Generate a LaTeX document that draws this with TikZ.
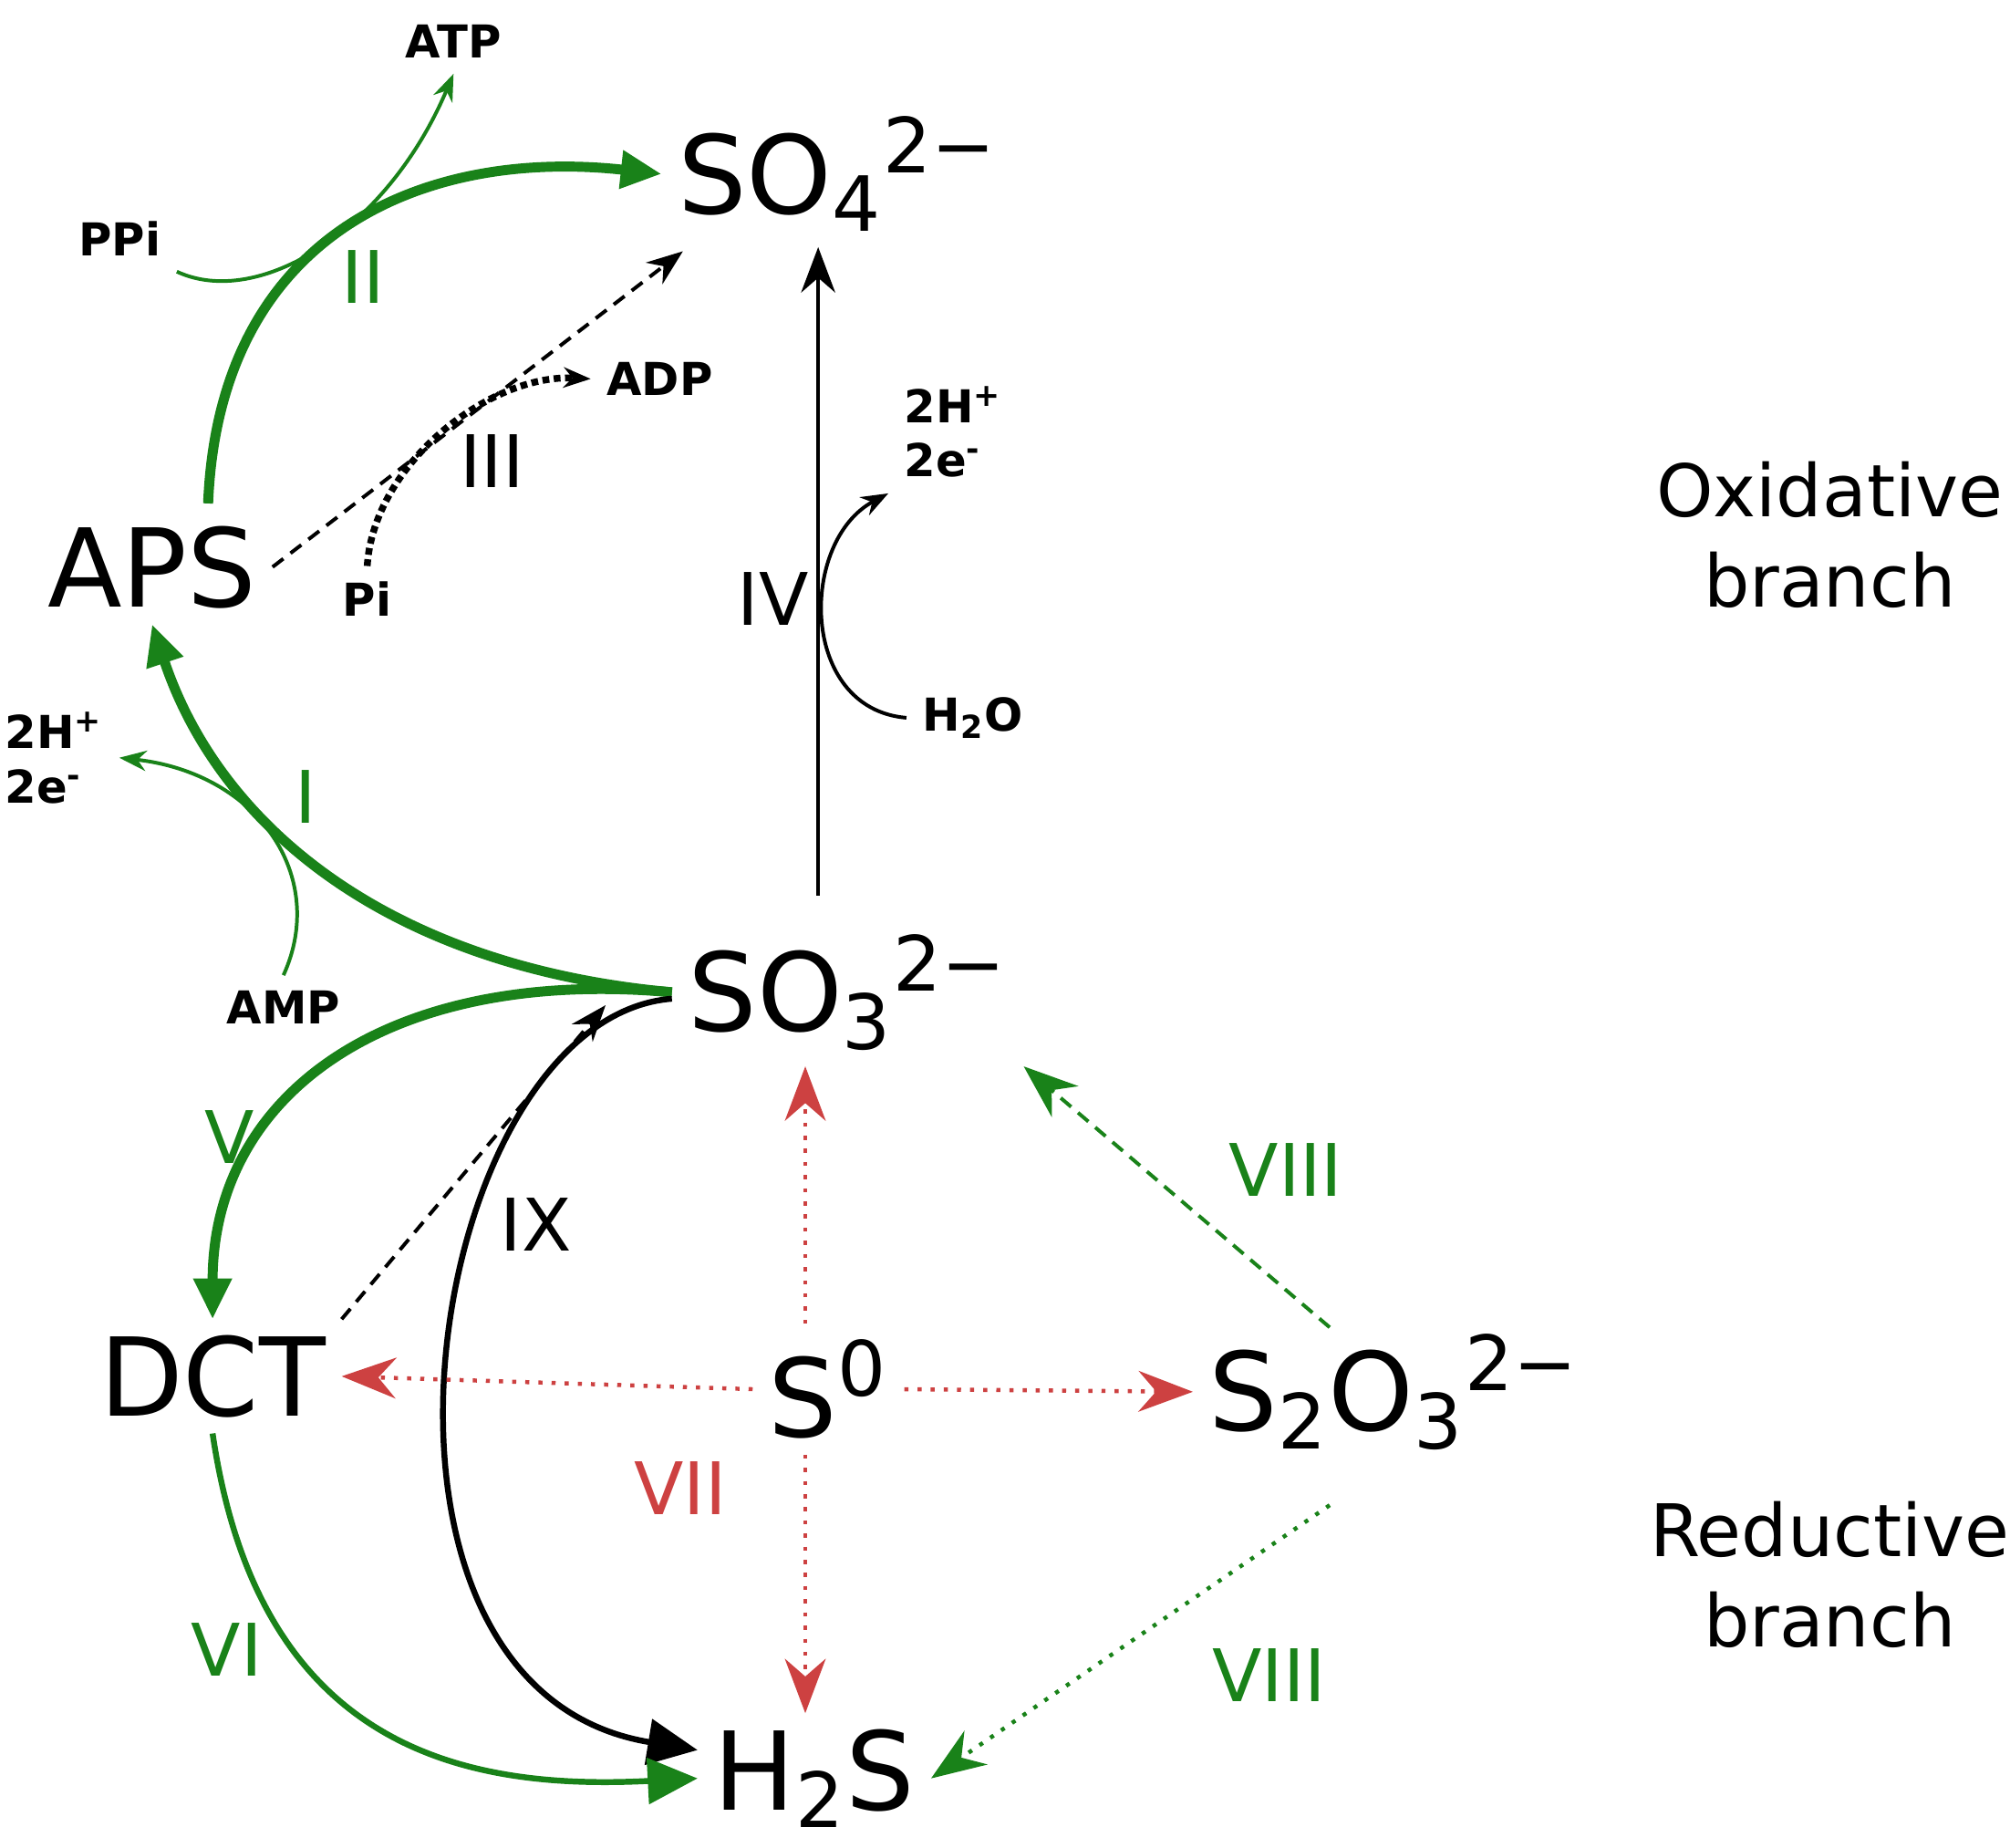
\documentclass[tikz,border=0pt]{standalone}
\usepackage{fontspec}
\setmainfont{DejaVu Sans}
\usetikzlibrary{arrows.meta}
\definecolor{pgreen}{RGB}{25,130,25}
\definecolor{pred}{RGB}{205,65,65}
\newcommand{\dn}[1]{\textsubscript{#1}}
\newcommand{\up}[1]{\textsuperscript{#1}}
\tikzset{
  big/.style={font=\fontsize{24}{26}\selectfont},
  small/.style={font=\fontsize{10}{10}\selectfont\bfseries},
  num/.style={font=\fontsize{16}{18}\selectfont},
  side/.style={font=\fontsize{16}{20}\selectfont,align=center},
  thickg/.style={pgreen,line width=2.2pt,-{Triangle[length=9pt,width=8pt]}},
  thing/.style={pgreen,line width=0.8pt,-{Stealth[length=6pt]}},
  redd/.style={pred,line width=0.9pt,dotted,-{Stealth[length=12pt,width=9pt]}}
}
\begin{document}
\begin{tikzpicture}[x=0.01cm,y=-0.01cm]
\useasboundingbox (0,0) rectangle (1560,1434);
% species
\node[big] (so4) at (650,135) {SO\dn{4}\up{2−}};
\node[big] (aps) at (118,440) {APS};
\node[big] (so3) at (658,770) {SO\dn{3}\up{2−}};
\node[big] (dct) at (165,1068) {DCT};
\node[big] (s0) at (643,1078) {S\up{0}};
\node[big] (s2o3) at (1082,1080) {S\dn{2}O\dn{3}\up{2−}};
\node[big] (h2s) at (632,1380) {H\dn{2}S};
\node[side] (ox) at (1420,415) {Oxidative\\branch};
\node[side] (red) at (1420,1222) {Reductive\\branch};
% co-substrates
\node[small] (atp) at (352,32) {ATP};
\node[small] (ppi) at (93,185) {PPi};
\node[small] (adp) at (512,294) {ADP};
\node[small] (pi) at (285,465) {Pi};
\node[small,align=left] (hea) at (740,335) {2H\up{+}\\[2pt]2e\up{-}};
\node[small] (h2o) at (755,557) {H\dn{2}O};
\node[small,align=left] (heb) at (42,588) {2H\up{+}\\[2pt]2e\up{-}};
\node[small] (amp) at (220,782) {AMP};
% enzyme labels
\node[num,pgreen] at (282,215) {II};
\node[num] at (382,358) {III};
\node[num] at (600,465) {IV};
\node[num,pgreen] at (237,618) {I};
\node[num,pgreen] at (178,882) {V};
\node[num] at (416,950) {IX};
\node[num,pgreen] at (176,1280) {VI};
\node[num,pred] at (528,1155) {VII};
\node[num,pgreen] at (998,908) {VIII};
\node[num,pgreen] at (985,1300) {VIII};
% oxidative branch
\draw[thickg] (aps.north east) ++(-50,-5) coordinate (a1) .. controls (170,180) and (330,115) .. (so4.west);
\draw[thing] (ppi.south east) .. controls (200,240) and (300,180) .. (atp.south);
\draw[densely dashed,line width=0.8pt,-{Stealth[length=8pt]}] (aps.east) -- (530,195);
\draw[densely dotted,line width=1.5pt,-{Stealth[open,length=6pt]}] (pi.north) .. controls (290,360) and (380,290) .. (adp.west);
\draw[line width=0.9pt,-{Stealth[length=10pt]}] (635,695) -- (so4.south -| 635,0);
\draw[line width=0.8pt,-{Stealth[length=6pt]}] (h2o.west) .. controls (620,550) and (620,420) .. (hea.south west);
\draw[thickg] (so3.west) .. controls (300,750) and (170,640) .. (aps.south);
\draw[thing] (amp.north) .. controls (255,680) and (200,600) .. (heb.east);
\draw[thickg] (so3.west) .. controls (300,750) and (165,850) .. (dct.north);
\draw[densely dashed,line width=0.8pt,-{Stealth[length=8pt]}] (dct.north east) -- (470,780);
\draw[line width=1.3pt,-{Triangle[length=11pt,width=10pt]}] (so3.west) ++(0,5) .. controls (330,790) and (250,1310) .. (h2s.west |- 0,1358);
\draw[pgreen,line width=1.3pt,-{Triangle[length=11pt,width=10pt]}] (dct.south) .. controls (200,1350) and (350,1390) .. (h2s.west);
% sulfur branches
\draw[redd] (s0.west) -- (dct.east);
\draw[redd] (s0.east) -- (s2o3.west);
\draw[redd] (s0.north -| 625,0) -- (so3.south -| 625,0);
\draw[redd] (s0.south -| 625,0) -- (h2s.north -| 625,0);
\draw[pgreen,densely dashed,line width=0.8pt,-{Stealth[length=12pt,width=9pt]}] (1032,1030) -- (so3.south east);
\draw[pgreen,dotted,line width=0.9pt,-{Stealth[length=12pt,width=9pt]}] (1032,1168) -- (h2s.east);
\end{tikzpicture}
\end{document}
